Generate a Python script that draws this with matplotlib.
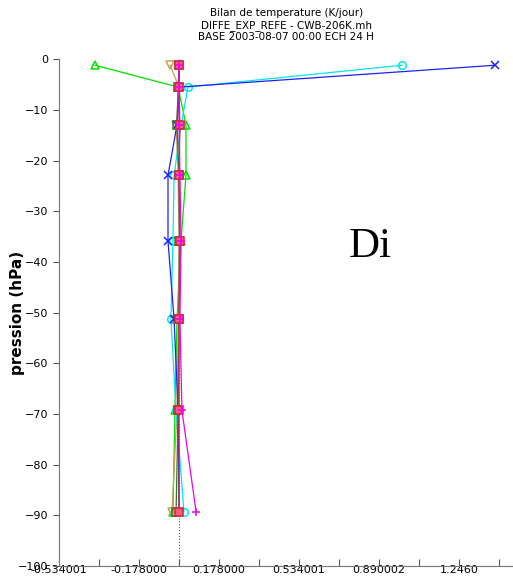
import matplotlib.pyplot as plt

# niveaux de pression (hPa, relatifs)
levels = [-1.2, -5.5, -13.0, -22.9, -35.9, -51.3, -69.3, -89.3]

# bilans par terme (K/jour)
s_green = [-0.374, -0.004, 0.031, 0.031, 0.009, -0.009, -0.018, -0.027]
s_tan = [-0.040, 0.0, -0.013, -0.004, 0.0, -0.004, -0.009, -0.031]
s_cyan = [0.992, 0.040, 0.009, -0.022, -0.027, -0.036, -0.013, 0.022]
s_blue = [1.406, 0.004, -0.009, -0.049, -0.049, -0.022, -0.004, 0.0]
s_dgreen = [0.0, -0.004, -0.009, 0.0, 0.002, 0.0, -0.004, -0.013]
s_red = [0.002, 0.0, 0.004, 0.0, 0.004, 0.0, 0.0, 0.0]
s_magenta = [0.0, 0.0, 0.0, 0.004, 0.009, 0.004, 0.013, 0.076]

xticks = [-0.534001, -0.356, -0.178, 0.0, 0.178, 0.356, 0.534001, 0.712,
          0.890002, 1.068, 1.246, 1.424]
xlabels = ['-0.534001', '', '-0.178000', '', '0.178000', '', '0.534001', '',
           '0.890002', '', '1.2460', '']
yticks = [0, -10, -20, -30, -40, -50, -60, -70, -80, -90, -100]

fig = plt.figure(figsize=(5.13, 5.80), dpi=100)
ax = fig.add_axes([0.115, 0.024, 0.885, 0.874])

ax.axvline(0, color='#555555', linestyle=':', linewidth=0.8, zorder=0)

series = [
    (s_green, '#00e000', '^', 'none'),
    (s_tan, '#c8a050', 'v', 'none'),
    (s_cyan, '#00e8e8', 'o', 'none'),
    (s_blue, '#2020f0', 'x', None),
    (s_dgreen, '#208020', 's', 'none'),
    (s_red, '#e02040', 's', '#f06080'),
    (s_magenta, '#f000f0', '+', None),
]
for vals, col, mk, fc in series:
    kw = dict(color=col, marker=mk, markersize=5.5, linewidth=0.9, markeredgewidth=1.1)
    if fc is not None:
        kw['markerfacecolor'] = fc
    ax.plot(vals, levels, **kw)

ax.set_xlim(-0.534001, 1.486)
ax.set_ylim(-100, 0)
ax.set_xticks(xticks)
ax.set_xticklabels(xlabels)
ax.set_yticks(yticks)
ax.tick_params(axis='x', direction='in', length=5, labelsize=8, pad=-1, color='#555555')
ax.tick_params(axis='y', direction='out', length=4, labelsize=8, color='#555555')
for side in ['top', 'right']:
    ax.spines[side].set_visible(False)
for side in ['left', 'bottom']:
    ax.spines[side].set_color('#777777')

ax.set_ylabel('pression (hPa)', fontsize=11, fontweight='bold')
ax.yaxis.set_label_coords(-0.075, 0.5)

fig.text(0.558, 0.986, 'Bilan de temperature (K/jour)\nDIFFE_EXP_REFE - CWB-206K.mh\nBASE 2003-08-07 00:00 ECH 24 H',
         ha='center', va='top', fontsize=7.5, linespacing=1.2)

fig.text(0.68, 0.575, 'Di', fontsize=31, family='Liberation Serif', ha='left', va='center')

fig.savefig('out.png', dpi=100)
